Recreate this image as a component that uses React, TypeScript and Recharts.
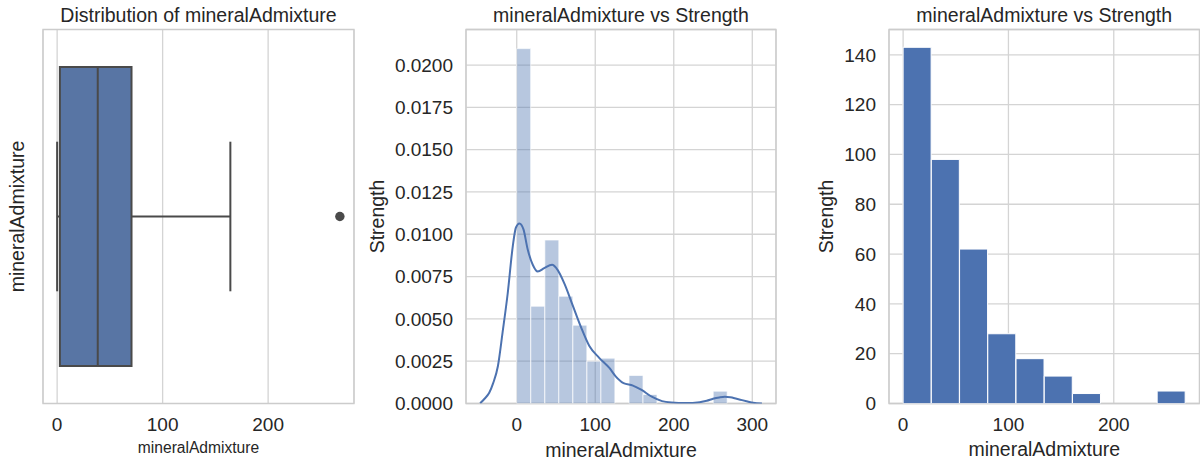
import React from 'react'
import {
  ComposedChart, Bar, Line, Scatter, XAxis, YAxis, ZAxis,
  CartesianGrid, ReferenceArea, ReferenceLine,
} from 'recharts'

// panel 1 - box plot stats
const boxStats = { whiskerLow: 0, q1: 2.6, median: 38.5, q3: 70.5, whiskerHigh: 164.2 }
const outlierValues = [268]

// panel 2 - distplot histogram (density) + kde
const densityBinCenters = [8.9, 26.8, 44.7, 62.5, 80.4, 98.3, 116.1, 134.0, 151.9, 169.7, 187.6, 205.5, 223.3, 241.2, 259.1]
const densityValues = [0.02097, 0.00575, 0.00966, 0.00634, 0.00463, 0.0025, 0.00268, 0, 0.00166, 0.00053, 0, 0, 0, 0, 0.00073]
const kdeX = [-46.6, -41, -35, -30, -24, -18, -11.5, -5, -1, 3.4, 8.5, 14, 20.4, 26.8, 35, 45, 52, 60.6, 71.3, 82, 92.5, 105, 118, 126, 136, 148, 159, 172, 185, 197, 215, 233, 242, 250, 258, 265, 272, 280, 287, 294, 301, 312.3]
const kdeY = [0.00002, 0.00028, 0.00063, 0.0012, 0.0022, 0.0042, 0.0065, 0.0093, 0.0104, 0.01064, 0.0103, 0.0091, 0.0082, 0.0078, 0.008, 0.0082, 0.0079, 0.0071, 0.0058, 0.0045, 0.0034, 0.0027, 0.0021, 0.0016, 0.0012, 0.00106, 0.0008, 0.0004, 0.00014, 0.00006, 0.00003, 0.00008, 0.00016, 0.00028, 0.00036, 0.0004, 0.00037, 0.00028, 0.0002, 0.00012, 0.00004, 0]

// panel 3 - plain histogram (counts)
const countBinCenters = [13.4, 40.2, 67.0, 93.8, 120.6, 147.4, 174.2, 201.0, 227.8, 254.6]
const countValues = [143, 98, 62, 28, 18, 11, 4, 0, 0, 5]

// ticks
const ticks300 = [0, 100, 200]
const ticksKde = [0, 100, 200, 300]
const densityTicks = [0, 0.0025, 0.005, 0.0075, 0.01, 0.0125, 0.015, 0.0175, 0.02]
const countTicks = [0, 20, 40, 60, 80, 100, 120, 140]

const densityData = densityBinCenters.map((x, i) => ({ x, d: densityValues[i] }))
const kdeData = kdeX.map((x, i) => ({ x, d: kdeY[i] }))
const countData = countBinCenters.map((x, i) => ({ x, c: countValues[i] }))
const outlierData = outlierValues.map((x) => ({ x, y: 0 }))

const FONT = '"Liberation Sans", Arial, Helvetica, sans-serif'
const TEXT = '#262626'
const GRID = '#d4d4d4'
const SPINE = '#cccccc'
const BLUE = '#4c72b0'
const BOX_LINE = '#4a4a4a'

const tickStyle = { fill: TEXT, fontSize: 19, fontFamily: FONT }
const labelStyle = { fill: TEXT, fontSize: 19.5, fontFamily: FONT }

const Title = ({ text, left, width }: { text: string; left: number; width: number }) => (
  <div style={{
    position: 'absolute', top: 6, left, width, textAlign: 'center',
    fontSize: 19.5, lineHeight: 1, color: TEXT, fontFamily: FONT, whiteSpace: 'nowrap',
  }}>{text}</div>
)

const xDomBox: [number, number] = [-13.4, 281.4]
const xDomKde: [number, number] = [-64.6, 330.2]
const yDomDensity: [number, number] = [0, 0.0221]
const yDomCount: [number, number] = [0, 150.15]

const BoxPanel = () => (
  <ComposedChart width={360} height={463} data={outlierData}
    margin={{ top: 29.5, right: 6, left: 0, bottom: 0 }}>
    <CartesianGrid stroke={GRID} strokeWidth={1.3} horizontal={false} />
    <XAxis type="number" dataKey="x" domain={xDomBox} ticks={ticks300} allowDataOverflow
      height={59.5} tickLine={false} axisLine={false} tickSize={0} tickMargin={14.5} tick={tickStyle}
      label={{ value: 'mineralAdmixture', position: 'insideBottom', offset: 9.7, ...labelStyle, fontSize: 15.6 }} />
    <YAxis type="number" dataKey="y" domain={[-0.5, 0.5]} allowDataOverflow width={43}
      tick={false} tickLine={false} axisLine={false}
      label={{ value: 'mineralAdmixture', angle: -90, position: 'insideLeft', offset: 17, style: { textAnchor: 'middle' }, ...labelStyle }} />
    <ZAxis range={[70, 70]} />
    <ReferenceLine segment={[{ x: boxStats.whiskerLow, y: 0 }, { x: boxStats.q1, y: 0 }]} stroke={BOX_LINE} strokeWidth={2} />
    <ReferenceLine segment={[{ x: boxStats.q3, y: 0 }, { x: boxStats.whiskerHigh, y: 0 }]} stroke={BOX_LINE} strokeWidth={2} />
    <ReferenceLine segment={[{ x: boxStats.whiskerLow, y: -0.2 }, { x: boxStats.whiskerLow, y: 0.2 }]} stroke={BOX_LINE} strokeWidth={2} />
    <ReferenceLine segment={[{ x: boxStats.whiskerHigh, y: -0.2 }, { x: boxStats.whiskerHigh, y: 0.2 }]} stroke={BOX_LINE} strokeWidth={2} />
    <ReferenceArea x1={boxStats.q1} x2={boxStats.q3} y1={-0.4} y2={0.4} fill="#5875a4" fillOpacity={1} stroke={BOX_LINE} strokeWidth={2} />
    <ReferenceLine segment={[{ x: boxStats.median, y: -0.4 }, { x: boxStats.median, y: 0.4 }]} stroke={BOX_LINE} strokeWidth={2} />
    <Scatter dataKey="y" fill={BOX_LINE} isAnimationActive={false} />
    <ReferenceArea x1={xDomBox[0]} x2={xDomBox[1]} y1={-0.5} y2={0.5} fill="none" stroke={SPINE} strokeWidth={1.3} />
  </ComposedChart>
)

const KdePanel = () => (
  <ComposedChart width={420} height={463} data={densityData} barCategoryGap={0} barGap={0}
    margin={{ top: 29.5, right: 4, left: 0, bottom: 0 }}>
    <CartesianGrid stroke={GRID} strokeWidth={1.3} />
    <XAxis type="number" dataKey="x" domain={xDomKde} ticks={ticksKde} allowDataOverflow
      height={59.5} tickLine={false} axisLine={false} tickSize={0} tickMargin={14.5} tick={tickStyle}
      label={{ value: 'mineralAdmixture', position: 'insideBottom', offset: 6.3, ...labelStyle }} />
    <XAxis xAxisId="kde" type="number" dataKey="x" domain={xDomKde} allowDataOverflow hide />
    <YAxis type="number" domain={yDomDensity} ticks={densityTicks} allowDataOverflow width={106}
      tickLine={false} axisLine={false} tickSize={0} tickMargin={13} tick={tickStyle}
      tickFormatter={(v: number) => v.toFixed(4)}
      label={{ value: 'Strength', angle: -90, position: 'insideLeft', offset: 17, style: { textAnchor: 'middle' }, ...labelStyle }} />
    <Bar dataKey="d" fill={BLUE} fillOpacity={0.4} stroke="#ffffff" strokeOpacity={0.7} strokeWidth={1} isAnimationActive={false} />
    <Line xAxisId="kde" data={kdeData} dataKey="d" type="monotone" stroke={BLUE} strokeWidth={2} dot={false} activeDot={false} isAnimationActive={false} />
    <ReferenceArea x1={xDomKde[0]} x2={xDomKde[1]} y1={yDomDensity[0]} y2={yDomDensity[1]} fill="none" stroke={SPINE} strokeWidth={1.3} />
  </ComposedChart>
)

const HistPanel = () => (
  <ComposedChart width={420} height={463} data={countData} barCategoryGap={0} barGap={0}
    margin={{ top: 29.5, right: 0.5, left: 0, bottom: 0 }}>
    <CartesianGrid stroke={GRID} strokeWidth={1.3} />
    <XAxis type="number" dataKey="x" domain={xDomBox} ticks={ticks300} allowDataOverflow
      height={59.5} tickLine={false} axisLine={false} tickSize={0} tickMargin={14.5} tick={tickStyle}
      label={{ value: 'mineralAdmixture', position: 'insideBottom', offset: 7, ...labelStyle }} />
    <YAxis type="number" domain={yDomCount} ticks={countTicks} allowDataOverflow width={109}
      tickLine={false} axisLine={false} tickSize={0} tickMargin={13} tick={tickStyle}
      label={{ value: 'Strength', angle: -90, position: 'insideLeft', offset: 46, style: { textAnchor: 'middle' }, ...labelStyle }} />
    <Bar dataKey="c" fill={BLUE} stroke="#ffffff" strokeWidth={1} isAnimationActive={false} />
    <ReferenceArea x1={xDomBox[0]} x2={xDomBox[1]} y1={yDomCount[0]} y2={yDomCount[1]} fill="none" stroke={SPINE} strokeWidth={1.3} />
  </ComposedChart>
)

export default function App() {
  return (
    <div style={{ position: 'absolute', left: 0, top: 0, width: 1200, height: 463, background: '#fff', overflow: 'hidden' }}>
      <div style={{ position: 'absolute', left: 0, top: 0 }}><BoxPanel /></div>
      <div style={{ position: 'absolute', left: 360, top: 0 }}><KdePanel /></div>
      <div style={{ position: 'absolute', left: 780, top: 0 }}><HistPanel /></div>
      <Title text="Distribution of mineralAdmixture" left={43} width={311} />
      <Title text="mineralAdmixture vs Strength" left={466} width={310} />
      <Title text="mineralAdmixture vs Strength" left={889} width={310.5} />
    </div>
  )
}
